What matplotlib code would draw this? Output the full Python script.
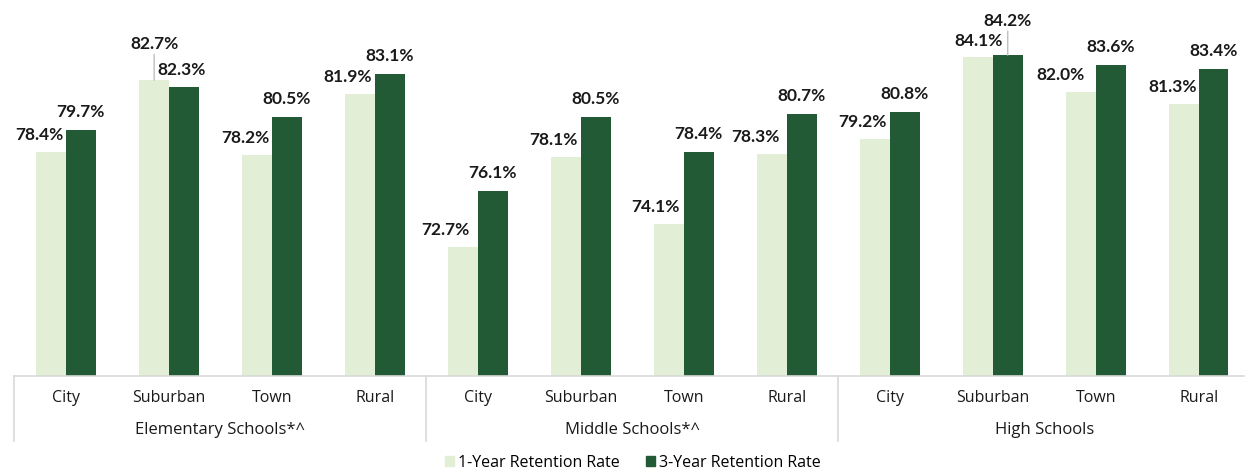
"""
Teacher retention by locale and school level, grouped bar chart.
"""

import numpy as np
import matplotlib
matplotlib.use('Agg')
import matplotlib.pyplot as plt
from matplotlib.patches import Patch

plt.rcParams['font.family'] = ['Open Sans', 'DejaVu Sans']

# ── Data ──────────────────────────────────────────────────────────────────────
groups = ['Elementary Schools*^', 'Middle Schools*^', 'High Schools']
locales = ['City', 'Suburban', 'Town', 'Rural']
one_year = [78.4, 82.7, 78.2, 81.9,
            72.7, 78.1, 74.1, 78.3,
            79.2, 84.1, 82.0, 81.3]
three_year = [79.7, 82.3, 80.5, 83.1,
              76.1, 80.5, 78.4, 80.7,
              80.8, 84.2, 83.6, 83.4]
series_names = ['1-Year Retention Rate', '3-Year Retention Rate']

# ── Colours / layout tweaks ───────────────────────────────────────────────────
col_light = '#E2EED6'
col_dark = '#225A35'
col_grid = '#D9D9D9'
col_text = '#1A1A1A'

# label offsets in pixels (dx, dy) relative to bar top centre
light_offsets = [(-12, 17), (0, 36), (-12, 17), (-13, 17),
                 (-18, 17), (-13, 17), (-14, 17), (-17, 17),
                 (-13, 17), (0, 16), (-21, 17), (-12, 17)]
dark_offsets = [(0, 18), (-2, 17), (0, 18), (0, 18),
                (0, 18), (0, 18), (0, 18), (0, 18),
                (0, 18), (0, 34), (0, 18), (0, 18)]
leaders = {('light', 1), ('dark', 9)}

# ── Figure ────────────────────────────────────────────────────────────────────
fig = plt.figure(figsize=(12.48, 4.73), dpi=100, facecolor='white')
ax = fig.add_axes([0.0116, 0.205, 0.9854, 0.795])

n = len(one_year)
x = np.arange(n)
w = 0.287

ax.bar(x - w / 2, one_year, width=w, color=col_light, zorder=2)
ax.bar(x + w / 2, three_year, width=w, color=col_dark, zorder=2)

ax.set_xlim(-0.5, 11.44)
ax.set_ylim(65, 87.5)
ax.set_yticks([])
ax.set_xticks([])
for s in ['top', 'left', 'right']:
    ax.spines[s].set_visible(False)
ax.spines['bottom'].set_color(col_grid)
ax.spines['bottom'].set_linewidth(1.2)

def label(kind, i, xpos, val, off):
    dx, dy = off
    ax.annotate(f'{val:.1f}%', (xpos, val), xytext=(dx, dy),
                textcoords='offset pixels', ha='center', va='center',
                fontsize=12.5, fontweight='bold', color=col_text,
                family=['Lato', 'DejaVu Sans'])
    if (kind, i) in leaders:
        ax.annotate('', (xpos, val), xytext=(0, dy - 10),
                    textcoords='offset pixels',
                    arrowprops=dict(arrowstyle='-', color='#BFBFBF', lw=1.0,
                                    shrinkA=0, shrinkB=0))

for i in range(n):
    label('light', i, x[i] - w / 2, one_year[i], light_offsets[i])
    label('dark', i, x[i] + w / 2, three_year[i], dark_offsets[i])

# category and group labels below the axis
trans = ax.get_xaxis_transform()
for i in range(n):
    ax.text(x[i], -0.058, locales[i % 4], transform=trans, ha='center',
            va='center', fontsize=11.5, color=col_text)
for g, name in enumerate(groups):
    ax.text(g * 4 + 1.5, -0.143, name, transform=trans, ha='center',
            va='center', fontsize=12, color=col_text)
for b in [-0.5, 3.5, 7.5]:
    ax.plot([b, b], [0, -0.172], transform=trans, color=col_grid,
            lw=1.2, clip_on=False)

handles = [Patch(color=col_light), Patch(color=col_dark)]
fig.legend(handles, series_names, loc='center', bbox_to_anchor=(0.507, 0.022),
           ncol=2, frameon=False, fontsize=11.5, handlelength=0.6,
           handleheight=0.6, handletextpad=0.25, columnspacing=1.6)

fig.savefig('out.png', dpi=100, facecolor='white')
